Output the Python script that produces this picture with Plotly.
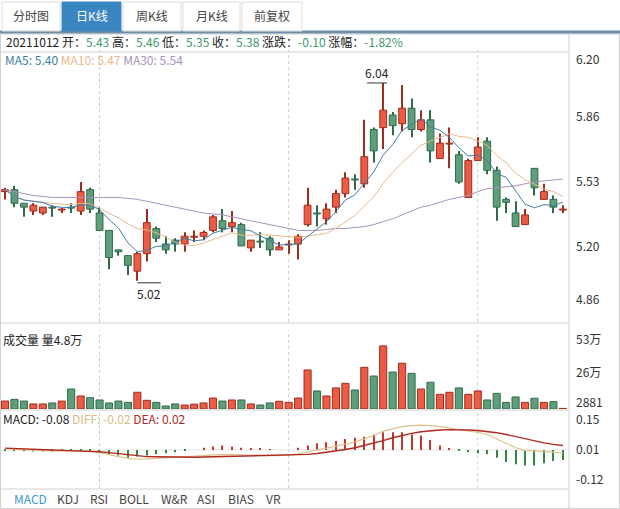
import plotly.graph_objects as go
import pandas as pd

W, H = 620, 509
def py(px): return 1 - px / H
def pxx(px): return px / W

opens  = [5.48,5.49,5.42,5.38,5.37,5.40,5.385,5.40,5.38,5.49,5.37,5.28,5.18,5.15,5.07,5.16,5.29,5.21,5.23,5.21,
          5.245,5.25,5.28,5.33,5.30,5.31,5.19,5.225,5.24,5.18,5.205,5.21,5.31,5.37,5.34,5.40,5.47,5.545,5.52,5.80,
          5.81,5.875,5.83,5.91,5.80,5.85,5.65,5.725,5.67,5.45,5.64,5.74,5.59,5.44,5.37,5.31,5.60,5.44,5.44,5.385]
highs  = [5.50,5.51,5.42,5.42,5.40,5.41,5.395,5.42,5.53,5.50,5.40,5.28,5.18,5.15,5.17,5.39,5.30,5.25,5.24,5.27,
          5.28,5.28,5.36,5.39,5.38,5.32,5.23,5.27,5.25,5.22,5.23,5.26,5.50,5.41,5.42,5.49,5.58,5.57,5.85,5.81,
          6.04,5.89,6.03,5.96,5.90,5.90,5.78,5.81,5.69,5.65,5.76,5.76,5.61,5.45,5.43,5.39,5.60,5.52,5.46,5.41]
lows   = [5.44,5.40,5.35,5.36,5.36,5.35,5.37,5.37,5.36,5.37,5.28,5.08,5.15,5.05,5.02,5.12,5.22,5.16,5.17,5.17,
          5.22,5.23,5.27,5.27,5.27,5.20,5.17,5.19,5.15,5.18,5.16,5.13,5.30,5.30,5.31,5.37,5.45,5.49,5.50,5.63,
          5.70,5.77,5.79,5.76,5.79,5.63,5.65,5.60,5.52,5.45,5.64,5.57,5.33,5.37,5.30,5.31,5.46,5.44,5.37,5.37]
closes = [5.49,5.42,5.40,5.41,5.40,5.395,5.39,5.395,5.48,5.39,5.28,5.14,5.17,5.10,5.16,5.32,5.24,5.18,5.21,5.25,
          5.25,5.27,5.35,5.29,5.32,5.20,5.23,5.22,5.18,5.195,5.21,5.25,5.41,5.365,5.39,5.47,5.55,5.54,5.66,5.69,
          5.90,5.82,5.91,5.80,5.85,5.69,5.73,5.73,5.53,5.64,5.71,5.59,5.40,5.425,5.30,5.36,5.50,5.48,5.40,5.39]
ma30   = [5.49,5.48,5.47,5.46,5.455,5.45,5.45,5.45,5.45,5.45,5.45,5.45,5.45,5.445,5.44,5.43,5.42,5.41,5.40,5.39,
          5.38,5.37,5.365,5.36,5.35,5.34,5.33,5.32,5.31,5.30,5.29,5.28,5.28,5.28,5.285,5.29,5.29,5.295,5.30,5.31,
          5.325,5.34,5.36,5.38,5.40,5.41,5.425,5.44,5.45,5.46,5.48,5.495,5.50,5.505,5.51,5.52,5.53,5.535,5.54,5.545]
volume = [6.6,8.0,6.6,4.2,4.2,5.0,6.6,16.6,10.8,9.4,7.5,5.0,6.6,5.5,13.9,7.2,5.5,2.5,4.2,3.3,
          4.0,5.0,9.1,6.6,7.5,7.5,4.2,3.3,5.0,6.4,5.5,9.1,32.4,15.0,10.8,17.5,21.3,15.8,34.6,27.4,
          52.4,30.7,38.0,29.6,16.6,22.2,12.2,13.9,17.5,12.2,15.0,7.5,13.0,5.5,10.0,5.5,8.9,5.5,6.1,0.5]
diff   = [0.005,0.004,0.002,0.0,-0.002,-0.004,-0.005,-0.005,-0.004,-0.006,-0.012,-0.022,-0.03,-0.038,-0.042,
          -0.04,-0.038,-0.036,-0.034,-0.032,-0.03,-0.026,-0.022,-0.02,-0.02,-0.022,-0.024,-0.025,-0.026,-0.026,
          -0.024,-0.018,-0.008,0.0,0.008,0.018,0.028,0.036,0.05,0.065,0.085,0.095,0.105,0.11,0.112,0.11,0.105,0.1,
          0.09,0.085,0.08,0.07,0.05,0.03,0.01,-0.002,-0.004,-0.006,-0.01,-0.015]
dea    = [0.008,0.007,0.005,0.004,0.002,0.0,-0.002,-0.003,-0.004,-0.005,-0.008,-0.012,-0.017,-0.022,-0.026,
          -0.03,-0.031,-0.032,-0.033,-0.033,-0.033,-0.032,-0.031,-0.029,-0.028,-0.027,-0.026,-0.026,-0.026,-0.026,
          -0.025,-0.024,-0.02,-0.016,-0.011,-0.005,0.002,0.01,0.02,0.03,0.042,0.055,0.066,0.075,0.082,0.087,0.09,
          0.092,0.092,0.09,0.088,0.084,0.078,0.07,0.06,0.05,0.04,0.032,0.025,0.02]
macd   = [-0.003,-0.005,-0.006,-0.007,-0.007,-0.007,-0.005,-0.004,-0.002,-0.005,-0.01,-0.018,-0.025,-0.035,-0.03,
          -0.025,-0.02,-0.015,-0.01,-0.003,0.0,0.01,0.015,0.02,0.015,0.01,0.006,0.005,0.003,0.0,
          0.0,0.01,0.02,0.03,0.035,0.04,0.05,0.055,0.06,0.07,0.08,0.08,0.08,0.07,0.065,0.045,0.02,0.006,
          -0.004,-0.01,-0.015,-0.02,-0.035,-0.055,-0.065,-0.07,-0.07,-0.06,-0.05,-0.045]
price_ticks = [6.158, 5.866, 5.531, 5.196, 4.921]
price_tick_text = ["6.20", "5.86", "5.53", "5.20", "4.86"]
vol_ticks = [57.3, 30.1, 5.5]
vol_tick_text = ["53万", "26万", "2881"]
macd_ticks = [0.136, 0.0, -0.136]
macd_tick_text = ["0.15", "0.01", "-0.12"]
tabs = ["分时图", "日K线", "周K线", "月K线", "前复权"]
indicators = ["MACD", "KDJ", "RSI", "BOLL", "W&R", "ASI", "BIAS", "VR"]

n = len(closes)
idx = list(range(n))
cs = pd.Series(closes)
ma5 = cs.rolling(5, min_periods=1).mean()
ma10 = cs.rolling(10, min_periods=1).mean()

RED, RED_L = "#ec5b43", "#9e2d1e"
GRN, GRN_L = "#5f9e7a", "#2f6a4b"
FONT = "Noto Sans CJK SC"
up = [c >= o for o, c in zip(opens, closes)]
fill = [RED if u else GRN for u in up]
edge = [RED_L if u else GRN_L for u in up]

fig = go.Figure()
fig.add_trace(go.Bar(x=idx, base=lows, y=[h - l for h, l in zip(highs, lows)], width=0.12,
                     marker=dict(color=edge, line=dict(width=0)), xaxis="x", yaxis="y"))
fig.add_trace(go.Bar(x=idx, base=[min(o, c) for o, c in zip(opens, closes)],
                     y=[max(abs(c - o), 0.004) for o, c in zip(opens, closes)], width=0.72,
                     marker=dict(color=fill, line=dict(color=edge, width=1)), xaxis="x", yaxis="y"))
for s, c in [(ma30, "#a892bd"), (ma10, "#eab98c"), (ma5, "#3d7ea6")]:
    fig.add_trace(go.Scatter(x=idx, y=list(s), mode="lines", line=dict(color=c, width=1), xaxis="x", yaxis="y"))

fig.add_trace(go.Bar(x=idx, y=volume, marker=dict(color=fill, line=dict(color=edge, width=1)),
                     width=0.75, xaxis="x2", yaxis="y2"))

mcol = ["#c0392b" if v >= 0 else "#2e8b3e" for v in macd]
fig.add_trace(go.Bar(x=idx, y=macd, marker=dict(color=mcol, line=dict(width=0)), width=0.12,
                     xaxis="x3", yaxis="y3"))
fig.add_trace(go.Scatter(x=idx, y=diff, mode="lines", line=dict(color="#e0c08a", width=1.2), xaxis="x3", yaxis="y3"))
fig.add_trace(go.Scatter(x=idx, y=dea, mode="lines", line=dict(color="#b0281e", width=1.4), xaxis="x3", yaxis="y3"))

xr = [-0.53, 59.65]
xd = [0, pxx(569)]
ax = dict(range=xr, domain=xd, showticklabels=False, showgrid=False, zeroline=False, fixedrange=True,
          automargin=False)
yax = dict(side="right", showgrid=False, zeroline=False, ticks="", tickfont=dict(size=12, color="#333"),
           ticklabelstandoff=6, automargin=False)
fig.update_layout(
    width=W, height=H, margin=dict(l=0, r=0, t=0, b=0, autoexpand=False), showlegend=False, barmode="overlay",
    paper_bgcolor="white", plot_bgcolor="white", font=dict(family=FONT, size=12, color="#333"),
    xaxis=dict(ax, anchor="y"), xaxis2=dict(ax, anchor="y2"), xaxis3=dict(ax, anchor="y3"),
    yaxis=dict(yax, domain=[py(322), py(50)], range=[4.808, 6.210], tickvals=price_ticks,
               ticktext=price_tick_text, anchor="x"),
    yaxis2=dict(yax, domain=[py(409), py(330)], range=[0, 65.6], tickvals=vol_ticks,
                ticktext=vol_tick_text, anchor="x2"),
    yaxis3=dict(yax, domain=[py(488), py(411)], range=[-0.172, 0.176], tickvals=macd_ticks,
                ticktext=macd_tick_text, anchor="x3"),
)

shapes = []
gray = "#d0d0d0"
shapes.append(dict(type="rect", xref="paper", yref="paper", x0=pxx(0.5), x1=pxx(619.5), y0=py(508.5), y1=py(34),
                   line=dict(color=gray, width=1)))
shapes.append(dict(type="line", xref="paper", yref="paper", x0=pxx(0), x1=pxx(620), y0=py(32), y1=py(32),
                   line=dict(color="#6f8fa8", width=3)))
shapes.append(dict(type="line", xref="paper", yref="paper", x0=pxx(569), x1=pxx(569), y0=py(509), y1=py(34),
                   line=dict(color=gray, width=1)))
for yy in [52, 323, 410, 489]:
    shapes.append(dict(type="line", xref="paper", yref="paper", x0=0, x1=pxx(569), y0=py(yy), y1=py(yy),
                       line=dict(color=gray, width=1)))
for xx in [10, 30, 50]:
    for xa, ya in [("x", "y"), ("x2", "y2"), ("x3", "y3")]:
        shapes.append(dict(type="line", xref=xa, yref=ya + " domain", x0=xx, x1=xx, y0=0, y1=1,
                           line=dict(color="#cccccc", width=1, dash="dot"), layer="below"))
shapes.append(dict(type="line", xref="x3", yref="y3", x0=xr[0], x1=xr[1], y0=0, y1=0,
                   line=dict(color="#e6e6e6", width=1), layer="below"))
tab_x = [(2, 60), (62, 121), (123, 181), (183, 240), (242, 302)]
for i, (a, b) in enumerate(tab_x):
    shapes.append(dict(type="rect", xref="paper", yref="paper", x0=pxx(a), x1=pxx(b), y0=py(31), y1=py(2),
                       fillcolor="#3a86c0" if i == 1 else "white",
                       line=dict(color="#3a86c0" if i == 1 else "#dddddd", width=1)))
hi_i = highs.index(max(highs)); lo_i = lows.index(min(lows))
shapes.append(dict(type="line", xref="x", yref="y", x0=hi_i - 1.7, x1=hi_i + 0.4, y0=highs[hi_i], y1=highs[hi_i],
                   line=dict(color="#333", width=1)))
shapes.append(dict(type="line", xref="x", yref="y", x0=lo_i, x1=lo_i + 2.5, y0=lows[lo_i] - 0.01, y1=lows[lo_i] - 0.01,
                   line=dict(color="#333", width=1)))
fig.update_layout(shapes=shapes)

def A(x, y, text, xanchor="center", color="#222", **kw):
    return dict(xref="paper", yref="paper", x=pxx(x), y=py(y), text=text, showarrow=False,
                xanchor=xanchor, yanchor="middle", font=dict(size=12, color=color), **kw)

ann = []
for i, ((a, b), t) in enumerate(zip(tab_x, tabs)):
    ann.append(A((a + b) / 2, 16, t, color="white" if i == 1 else "#444"))
G = "#3d9a6b"
hdr = ("20211012 开：<span style='color:%s'>5.43</span> 高：<span style='color:%s'>5.46</span> "
       "低：<span style='color:%s'>5.35</span> 收：<span style='color:%s'>5.38</span> "
       "涨跌：<span style='color:%s'>-0.10</span> 涨幅：<span style='color:%s'>-1.82%%</span>") % ((G,) * 6)
ann.append(A(4, 42, hdr, xanchor="left"))
ma_txt = ("<span style='color:#3d7ea6'>MA5: %.2f</span> <span style='color:#eab98c'>MA10: %.2f</span> "
          "<span style='color:#a892bd'>MA30: %.2f</span>") % (5.40, 5.47, ma30[-1])
ann.append(A(3, 59, ma_txt, xanchor="left"))
ann.append(dict(xref="x", yref="y", x=hi_i - 0.65, y=highs[hi_i], text="%.2f" % highs[hi_i], showarrow=False,
                xanchor="center", yanchor="bottom", font=dict(size=12, color="#222")))
ann.append(dict(xref="x", yref="y", x=lo_i + 1.25, y=lows[lo_i] - 0.01, text="%.2f" % lows[lo_i], showarrow=False,
                xanchor="center", yanchor="top", font=dict(size=12, color="#222")))
ann.append(A(1, 339, "成交量 量4.8万", xanchor="left"))
mtxt = ("MACD: -0.08 <span style='color:#d9bb85'>DIFF: -0.02</span> "
        "<span style='color:#b0281e'>DEA: 0.02</span>")
ann.append(A(1, 418, mtxt, xanchor="left"))
ind_x = [30, 68, 99, 134, 174, 206, 241, 273]
for t, xx in zip(indicators, ind_x):
    ann.append(A(xx, 498, t, color="#3a9bd0" if t == "MACD" else "#444"))
fig.update_layout(annotations=ann)

fig.write_html("out.html", config={"displayModeBar": False},
               post_script="document.body.style.margin='0';document.body.style.overflow='hidden';")
